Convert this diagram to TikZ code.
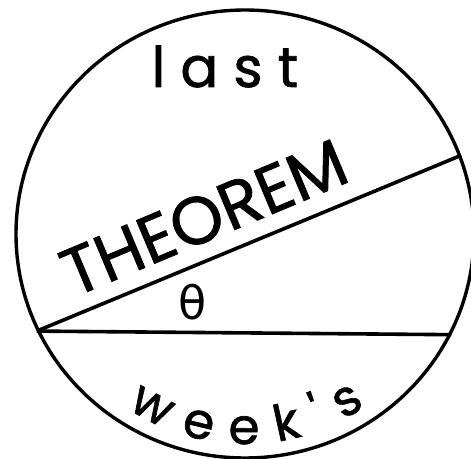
\documentclass[tikz,border=0pt]{standalone}
\usepackage{fontspec}
\newfontfamily\letterfont{Poppins}[FakeBold=1.2]
\newfontfamily\thetafont{DejaVu Sans}
\usetikzlibrary{calc,shapes.geometric,decorations.text}

\tikzset{
  outline/.style={line width=3.4pt},
  chord/.style={line width=3.6pt,line join=round},
}

\begin{document}
\begin{tikzpicture}[x=1pt,y=1pt]
  \useasboundingbox (0,0) rectangle (471,458);
  \node[draw,ellipse,outline,minimum width=458,minimum height=448,inner sep=0pt] (rim) at (245,224) {};
  \coordinate (west) at (rim.205.17);
  \coordinate (east) at (rim.334.83);
  \coordinate (tip) at (rim.20.24);
  \draw[chord] (west) -- (east);
  \draw[chord] (west) -- (tip);
  % labels
  \node[anchor=base west,font=\letterfont\fontsize{56}{56}\selectfont\addfontfeature{LetterSpace=27}] (last) at (148,371) {last};
  \node[anchor=base,rotate=22.8,font=\letterfont\fontsize{67}{67}\selectfont] (theorem) at (213,219) {THEOREM};
  \node[anchor=base,font=\thetafont\fontsize{46}{46}\selectfont] (theta) at (193,138) {θ};
  \path[decorate,decoration={text along path,text={|\letterfont\fontsize{50}{50}\selectfont|week's},text align={fit to path}}]
    ($(rim.center)+(236:210)$) arc[start angle=236,end angle=305,radius=210];
\end{tikzpicture}
\end{document}
